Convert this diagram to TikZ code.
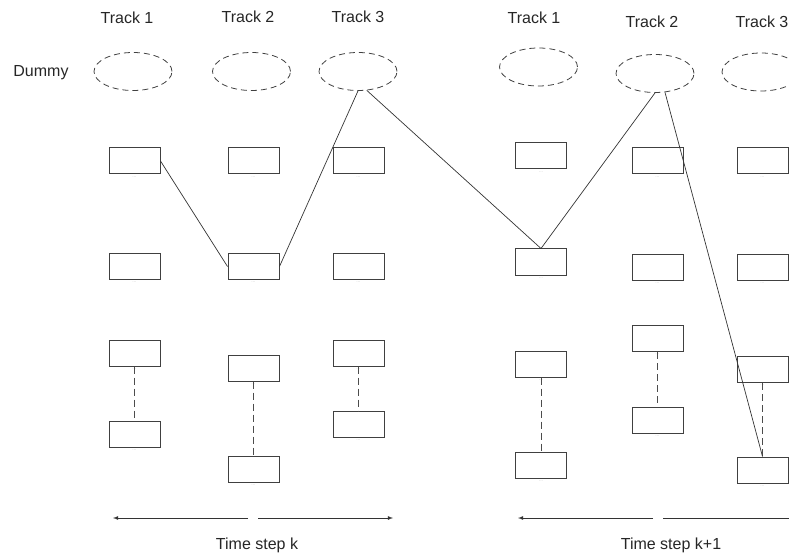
\documentclass[tikz,border=0pt]{standalone}
\usepackage{fontspec}
\setmainfont{Liberation Sans}
\usetikzlibrary{shapes.geometric}

\begin{document}
\begin{tikzpicture}[x=1pt,y=-1pt]
  \tikzstyle{D}=[draw=black!75,dashed,dash pattern=on 6pt off 4pt,line width=0.8pt,ellipse,minimum width=78pt,minimum height=38pt,inner sep=0pt]
  \tikzstyle{B}=[draw=black!75,line width=1pt,rectangle,minimum width=51pt,minimum height=26pt,inner sep=0pt,label={[gray!45,font=\tiny,inner sep=2pt]below:...}]
  \tikzstyle{T}=[anchor=base,font=\fontsize{16}{19}\selectfont,text=black!85]
  \tikzstyle{C}=[black!80,line width=0.7pt]
  \tikzstyle{V}=[black!70,line width=1pt,dashed,dash pattern=on 7pt off 4pt]
  \tikzstyle{A}=[black!80,line width=0.8pt,-latex]
  \useasboundingbox (0,0) rectangle (789,553);

  % headings
  \node[T] (H1) at (127,24) {Track 1};
  \node[T] (H2) at (248,23) {Track 2};
  \node[T] (H3) at (358,23) {Track 3};
  \node[T] (H4) at (534,24) {Track 1};
  \node[T] (H5) at (652,28) {Track 2};
  \node[T] (H6) at (762,28) {Track 3};
  \node[T] (Dummy) at (41,77) {Dummy};

  % dummy tracks
  \node[D] (D1) at (133,71.5) {};
  \node[D] (D2) at (251.5,71.5) {};
  \node[D] (D3) at (358,71.5) {};
  \node[D] (D4) at (538.5,67) {};
  \node[D] (D5) at (655,73.5) {};
  \node[D] (D6) at (761,72) {};

  % time step k
  \node[B] (B11) at (134.5,161) {};
  \node[B] (B12) at (134.5,266.5) {};
  \node[B] (B13) at (134.5,353) {};
  \node[B] (B14) at (134.5,434) {};
  \node[B] (B21) at (253.5,161) {};
  \node[B] (B22) at (253.5,266.5) {};
  \node[B] (B23) at (253.5,368) {};
  \node[B] (B24) at (253.5,469.5) {};
  \node[B] (B31) at (358.5,161) {};
  \node[B] (B32) at (358.5,266.5) {};
  \node[B] (B33) at (358.5,353) {};
  \node[B] (B34) at (358.5,424.5) {};

  % time step k+1
  \node[B] (B41) at (541,156) {};
  \node[B] (B42) at (541,262) {};
  \node[B] (B43) at (541,364) {};
  \node[B] (B44) at (541,465) {};
  \node[B] (B51) at (657.5,161) {};
  \node[B] (B52) at (657.5,267.5) {};
  \node[B] (B53) at (657.5,338.5) {};
  \node[B] (B54) at (657.5,420) {};
  \node[B] (B61) at (762.5,161) {};
  \node[B] (B62) at (762.5,267.5) {};
  \node[B] (B63) at (762.5,369.5) {};
  \node[B] (B64) at (762.5,470) {};

  \draw[V] (B13) -- (B14);
  \draw[V] (B23) -- (B24);
  \draw[V] (B33) -- (B34);
  \draw[V] (B43) -- (B44);
  \draw[V] (B53) -- (B54);
  \draw[V] (B63) -- (B64);

  \draw[C] (B11.east) -- (B22.west);
  \draw[C] (B22.east) -- (D3.south);
  \draw[C] (D3.-65) -- (B42.north);
  \draw[C] (B42.north) -- (D5.south);
  \draw[C] (D5.-62) -- (B64.north);

  % time axes
  \coordinate (K1) at (248,518);
  \coordinate (K2) at (113,518);
  \coordinate (K3) at (258,518);
  \coordinate (K4) at (393,518);
  \coordinate (K5) at (653,518);
  \coordinate (K6) at (518,518);
  \coordinate (K7) at (663,518);
  \coordinate (K8) at (789,518);
  \draw[A] (K1) -- (K2);
  \draw[A] (K3) -- (K4);
  \draw[A] (K5) -- (K6);
  \draw[C,line width=0.8pt] (K7) -- (K8);
  \node[T] (S1) at (257,549) {Time step k};
  \node[T] (S2) at (671,549) {Time step k+1};
\end{tikzpicture}
\end{document}
